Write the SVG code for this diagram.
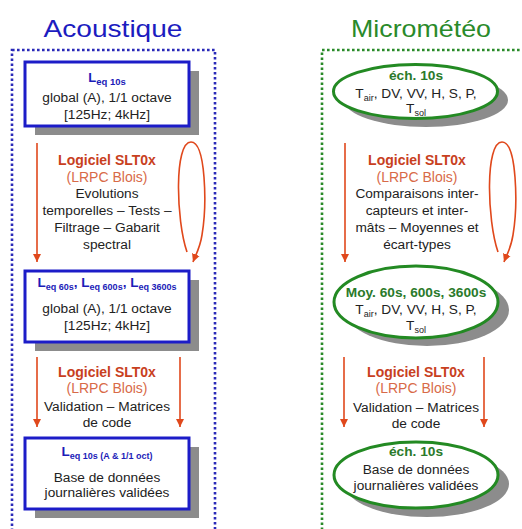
<svg xmlns="http://www.w3.org/2000/svg" width="522" height="529" viewBox="0 0 522 529">
<style>
text{font-family:"Liberation Sans",Arial,sans-serif;text-anchor:middle;}
.title{font-size:24px;}
.body{font-size:13.7px;fill:#222;}
.soft{font-size:14px;font-weight:bold;fill:#c8401e;}
.lab{font-size:14px;fill:#d86a48;}
.leq{font-weight:bold;fill:#1c1cb8;}
.grn{font-size:13.7px;font-weight:bold;fill:#2a7a2a;}
.box{fill:#fff;stroke:#1c1cc8;stroke-width:3;}
.ell{fill:#fff;stroke:#238a23;stroke-width:3;}
.shadow{fill:#8c8c8c;}
.arr{fill:none;stroke:#e0481c;stroke-width:1.6;marker-end:url(#ah);}
</style>
<defs>
<marker id="ah" markerUnits="userSpaceOnUse" markerWidth="9" markerHeight="9" refX="8" refY="4" orient="auto" viewBox="0 0 9 8">
<path d="M0,0 L8,4 L0,8 z" fill="#e0481c"/>
</marker>
</defs>
<rect width="522" height="529" fill="#fff"/>

<g id="frame-acoustique">
<text class="title" x="113" y="37" fill="#1c1cc0" textLength="139" lengthAdjust="spacingAndGlyphs">Acoustique</text>
<rect x="12" y="50" width="203" height="500" fill="none" stroke="#2a2ab8" stroke-width="2.6" stroke-dasharray="2.6 2.4"/>
</g>
<g id="frame-micrometeo">
<text class="title" x="421" y="37" fill="#2a8a2a" textLength="140" lengthAdjust="spacingAndGlyphs">Micrométéo</text>
<rect x="322" y="50" width="210" height="500" fill="none" stroke="#2a8a2a" stroke-width="2.6" stroke-dasharray="2.6 2.4"/>
</g>

<g id="connectors">
<path class="arr" d="M37,143 L37,262"/>
<path class="arr" d="M187,252 C176,220 174,142 191,142 C206,142 207,205 202,235 C200,248 196,254 193,262"/>
<path class="arr" d="M37,357 L37,427"/>
<path class="arr" d="M180,357 L180,427"/>
<path class="arr" d="M345,143 L345,262"/>
<path class="arr" d="M498,252 C487,220 485,142 502,142 C517,142 518,205 513,235 C511,248 507,254 504,262"/>
<path class="arr" d="M344,357 L344,427"/>
<path class="arr" d="M484,357 L484,427"/>
</g>

<g id="box-leq10s">
<rect class="shadow" x="35" y="71" width="164" height="64"/>
<rect class="box" x="25" y="62" width="164" height="64"/>
<text x="107" y="82"><tspan class="leq" font-size="13">L</tspan><tspan class="leq" font-size="9.5" dy="3">eq 10s</tspan></text>
<text class="body" x="107" y="102">global (A), 1/1 octave</text>
<text class="body" x="107" y="119">[125Hz; 4kHz]</text>
</g>

<g id="text-slt-1">
<text class="soft" x="107" y="165">Logiciel SLT0x</text>
<text class="lab" x="107" y="181.5">(LRPC Blois)</text>
<text class="body" x="107" y="198">Evolutions</text>
<text class="body" x="107" y="215">temporelles – Tests –</text>
<text class="body" x="107" y="232">Filtrage – Gabarit</text>
<text class="body" x="107" y="249">spectral</text>
</g>

<g id="box-leq60s">
<rect class="shadow" x="35" y="280" width="164" height="71"/>
<rect class="box" x="25" y="271" width="164" height="71"/>
<text x="107" y="287"><tspan class="leq" font-size="13.5">L</tspan><tspan class="leq" font-size="9" dy="3" font-weight="normal">eq 60s</tspan><tspan class="leq" font-size="13.5" dy="-3">, L</tspan><tspan class="leq" font-size="9" dy="3" font-weight="normal">eq 600s</tspan><tspan class="leq" font-size="13.5" dy="-3">, L</tspan><tspan class="leq" font-size="9" dy="3" font-weight="normal">eq 3600s</tspan></text>
<text class="body" x="107" y="313">global (A), 1/1 octave</text>
<text class="body" x="107" y="330">[125Hz; 4kHz]</text>
</g>

<g id="text-slt-2">
<text class="soft" x="107" y="377">Logiciel SLT0x</text>
<text class="lab" x="107" y="393">(LRPC Blois)</text>
<text class="body" x="107" y="411">Validation – Matrices</text>
<text class="body" x="107" y="427">de code</text>
</g>

<g id="box-leq10s-valid">
<rect class="shadow" x="35" y="447" width="164" height="71"/>
<rect class="box" x="25" y="438" width="164" height="71"/>
<text x="107" y="456"><tspan class="leq" font-size="13.5">L</tspan><tspan class="leq" font-size="9" dy="3">eq 10s (A &amp; 1/1 oct)</tspan></text>
<text class="body" x="107" y="482">Base de données</text>
<text class="body" x="107" y="497">journalières validées</text>
</g>

<g id="ell-ech10s">
<ellipse class="shadow" cx="426" cy="100" rx="82" ry="27"/>
<ellipse class="ell" cx="415.5" cy="91.5" rx="82" ry="27"/>
<text class="grn" x="416" y="80">éch. 10s</text>
<text class="body" x="416" y="98">T<tspan font-size="9" dy="3">air</tspan><tspan dy="-3">, DV, VV, H, S, P,</tspan></text>
<text class="body" x="416" y="113">T<tspan font-size="9" dy="3">sol</tspan></text>
</g>

<g id="text-slt-3">
<text class="soft" x="417" y="165">Logiciel SLT0x</text>
<text class="lab" x="417" y="181.5">(LRPC Blois)</text>
<text class="body" x="417" y="198">Comparaisons inter-</text>
<text class="body" x="417" y="215">capteurs et inter-</text>
<text class="body" x="417" y="232">mâts – Moyennes et</text>
<text class="body" x="417" y="249">écart-types</text>
</g>

<g id="ell-moy">
<ellipse class="shadow" cx="427" cy="310" rx="82" ry="36"/>
<ellipse class="ell" cx="416" cy="302" rx="82" ry="36"/>
<text class="grn" x="416" y="297">Moy. 60s, 600s, 3600s</text>
<text class="body" x="416" y="314">T<tspan font-size="9" dy="3">air</tspan><tspan dy="-3">, DV, VV, H, S, P,</tspan></text>
<text class="body" x="416" y="330">T<tspan font-size="9" dy="3">sol</tspan></text>
</g>

<g id="text-slt-4">
<text class="soft" x="416" y="377">Logiciel SLT0x</text>
<text class="lab" x="416" y="393">(LRPC Blois)</text>
<text class="body" x="416" y="412">Validation – Matrices</text>
<text class="body" x="416" y="428">de code</text>
</g>

<g id="ell-ech10s-valid">
<ellipse class="shadow" cx="427" cy="484" rx="82" ry="33"/>
<ellipse class="ell" cx="416" cy="475" rx="82" ry="33"/>
<text class="grn" x="416" y="456">éch. 10s</text>
<text class="body" x="416" y="474">Base de données</text>
<text class="body" x="416" y="490">journalières validées</text>
</g>
</svg>
